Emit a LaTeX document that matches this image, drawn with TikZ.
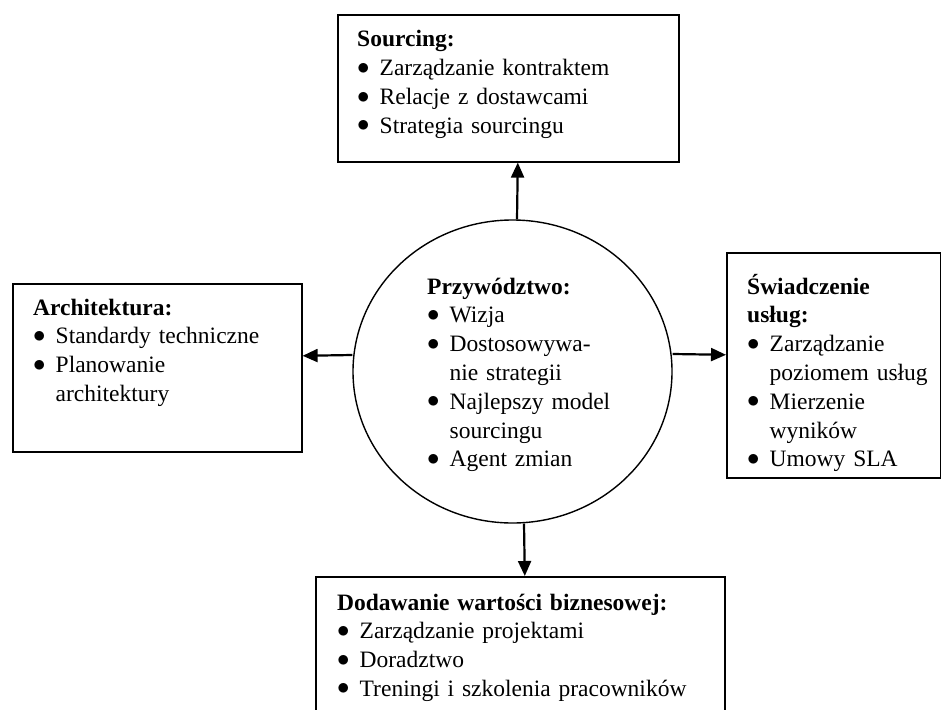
\documentclass[tikz,border=0pt]{standalone}
\usepackage{fontspec}
\setmainfont{Liberation Serif}
\usetikzlibrary{shapes.geometric,arrows.meta}
\newcommand\itm[1]{\makebox[22.5pt][l]{\raisebox{1.5pt}{$\bullet$}}#1}
\newcommand\cnt[1]{\hspace*{22.5pt}#1}
\tikzset{
  box/.style={draw,line width=1.6pt,inner sep=0pt,anchor=north west},
  lbl/.style={anchor=base west,inner sep=0pt,text width=400pt,align=left,
    font=\fontsize{23.5}{28.8}\selectfont},
  arr/.style={->,line width=2.2pt},
}
\begin{document}
\begin{tikzpicture}[x=1pt,y=-1pt,>={Triangle[width=13pt,length=15pt]}]
    \useasboundingbox (0,0) rectangle (941,709);
    \clip (0,0) rectangle (941,709);

    \node[box,minimum width=341pt,minimum height=147pt] (src) at (337,14) {};
    \node[box,minimum width=289pt,minimum height=168pt] (arch) at (12,283) {};
    \node[box,minimum width=214pt,minimum height=225pt] (serv) at (726,252) {};
    \node[box,minimum width=409pt,minimum height=160pt] (val) at (315,576) {};
    \node[draw,ellipse,line width=1.4pt,inner sep=0pt,
      minimum width=319pt,minimum height=303pt] (lead) at (512.5,371.5) {};

    \node[lbl] (srcT) at (357,47) {\textbf{Sourcing:}\\
      \itm{Zarządzanie kontraktem}\\ \itm{Relacje z dostawcami}\\
      \itm{Strategia sourcingu}};
    \node[lbl] (archT) at (33,315) {\textbf{Architektura:}\\
      \itm{Standardy techniczne}\\ \itm{Planowanie}\\ \cnt{architektury}};
    \node[lbl] (servT) at (747,294) {\textbf{Świadczenie}\\ \textbf{usług:}\\
      \itm{Zarządzanie}\\ \cnt{poziomem usług}\\ \itm{Mierzenie}\\
      \cnt{wyników}\\ \itm{Umowy SLA}};
    \node[lbl] (leadT) at (427,294) {\textbf{Przywództwo:}\\ \itm{Wizja}\\
      \itm{Dostosowywa-}\\ \cnt{nie strategii}\\ \itm{Najlepszy model}\\
      \cnt{sourcingu}\\ \itm{Agent zmian}};
    \node[lbl] (valT) at (337,610) {\textbf{Dodawanie wartości biznesowej:}\\
      \itm{Zarządzanie projektami}\\ \itm{Doradztwo}\\
      \itm{Treningi i szkolenia pracowników}};

    \draw[arr] ([xshift=4.5pt]lead.north) -- ([xshift=9.5pt]src.south);
    \draw[arr] ([yshift=16.5pt]lead.west) -- ([yshift=12pt]arch.east);
    \draw[arr] ([yshift=17.5pt]lead.east) -- ([yshift=10.5pt]serv.west);
    \draw[arr] ([xshift=11.5pt]lead.south) -- ([xshift=4.5pt]val.north);
\end{tikzpicture}
\end{document}
